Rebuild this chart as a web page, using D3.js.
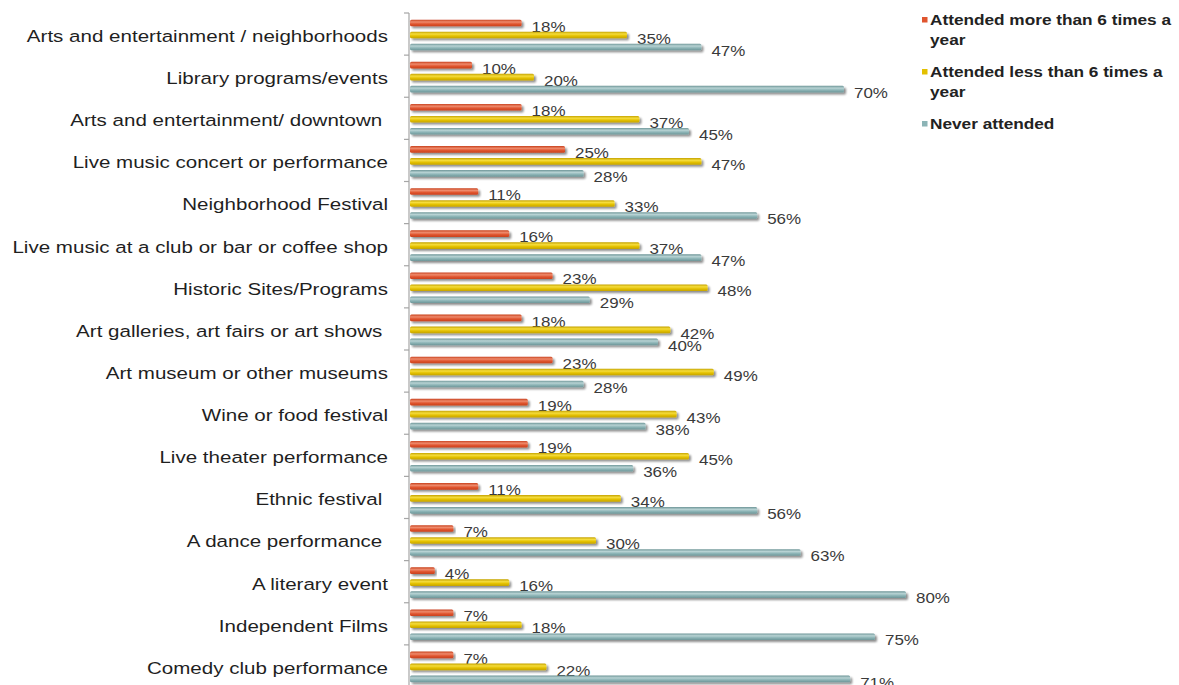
<!DOCTYPE html>
<html>
<head>
<meta charset="utf-8">
<script src="https://cdn.jsdelivr.net/npm/d3@7"></script>
<style>
  html, body { margin: 0; padding: 0; background: #fff; }
  svg { display: block; font-family: "Liberation Sans", Arial, sans-serif; }
</style>
</head>
<body>
<svg id="chart" width="1179" height="685"></svg>
<script>
// Attendance by activity type (percent of respondents)
const categories = [
  "Arts and entertainment / neighborhoods",
  "Library programs/events",
  "Arts and entertainment/ downtown ",
  "Live music concert or performance",
  "Neighborhood Festival",
  "Live music at a club or bar or coffee shop",
  "Historic Sites/Programs",
  "Art galleries, art fairs or art shows ",
  "Art museum or other museums",
  "Wine or food festival",
  "Live theater performance",
  "Ethnic festival ",
  "A dance performance ",
  "A literary event",
  "Independent Films",
  "Comedy club performance"
];
const seriesNames = [
  "Attended more than 6 times a year",
  "Attended less than 6 times a year",
  "Never attended"
];
const moreThan6 = [18, 10, 18, 25, 11, 16, 23, 18, 23, 19, 19, 11, 7, 4, 7, 7];
const lessThan6 = [35, 20, 37, 47, 33, 37, 48, 42, 49, 43, 45, 34, 30, 16, 18, 22];
const never     = [47, 70, 45, 28, 56, 47, 29, 40, 28, 38, 36, 56, 63, 80, 75, 71];
const seriesValues = [moreThan6, lessThan6, never];
const legendLines = [
  ["Attended more than 6 times a", "year"],
  ["Attended less than 6 times a", "year"],
  ["Never attended"]
];

const colors = ["#e0552f", "#e3c000", "#8cb4b6"];
const light  = ["#ee8a6c", "#f5dc3c", "#b7d2d3"];
const dark   = ["#c8401c", "#c4a200", "#6d9597"];

const svg = d3.select("#chart");
const defs = svg.append("defs");

colors.forEach((c, i) => {
  const g = defs.append("linearGradient")
    .attr("id", "grad" + i).attr("x1", 0).attr("y1", 0).attr("x2", 0).attr("y2", 1);
  g.append("stop").attr("offset", "0%").attr("stop-color", dark[i]);
  g.append("stop").attr("offset", "35%").attr("stop-color", light[i]);
  g.append("stop").attr("offset", "65%").attr("stop-color", c);
  g.append("stop").attr("offset", "100%").attr("stop-color", dark[i]);
});
const shadow = defs.append("filter").attr("id", "shadow")
  .attr("x", "-5%").attr("y", "-60%").attr("width", "110%").attr("height", "260%");
shadow.append("feGaussianBlur").attr("in", "SourceAlpha").attr("stdDeviation", 1.2).attr("result", "b");
shadow.append("feOffset").attr("in", "b").attr("dx", 1.5).attr("dy", 1.5).attr("result", "o");
shadow.append("feComponentTransfer").attr("in", "o").attr("result", "s")
  .append("feFuncA").attr("type", "linear").attr("slope", 0.45);
const merge = shadow.append("feMerge");
merge.append("feMergeNode").attr("in", "s");
merge.append("feMergeNode").attr("in", "SourceGraphic");

const axisX = 409;
const x = d3.scaleLinear().domain([0, 100]).range([axisX + 1, axisX + 621]);
const y = d3.scaleBand().domain(categories).range([13, 687]);
const inner = d3.scaleBand().domain(d3.range(3)).range([4, 40]).paddingInner(0.44).paddingOuter(0.22);

// category axis: line plus boundary ticks
svg.append("line")
  .attr("x1", axisX).attr("x2", axisX)
  .attr("y1", y.range()[0]).attr("y2", y.range()[1])
  .attr("stroke", "#a6a6a6").attr("stroke-width", 1.2);
const bounds = categories.map(c => y(c)).concat([y.range()[1]]);
svg.append("g").selectAll("line").data(bounds).join("line")
  .attr("x1", axisX - 5).attr("x2", axisX)
  .attr("y1", d => d).attr("y2", d => d)
  .attr("stroke", "#a6a6a6").attr("stroke-width", 1.2);

// category labels (wide setting)
svg.append("g").selectAll("text").data(categories).join("text")
  .attr("transform", d => `translate(388,${y(d) + y.bandwidth() / 2 + 2}) scale(1.21,1)`)
  .attr("text-anchor", "end")
  .attr("dominant-baseline", "central")
  .attr("font-size", 17)
  .attr("fill", "#1f1f1f")
  .style("white-space", "pre")
  .text(d => d);

const groups = svg.append("g").selectAll("g").data(categories).join("g")
  .attr("transform", d => `translate(0,${y(d)})`);

groups.each(function(cat, ci) {
  const g = d3.select(this);
  seriesValues.forEach((vals, si) => {
    const v = vals[ci];
    const by = inner(si);
    g.append("rect")
      .attr("x", x(0)).attr("y", by)
      .attr("width", x(v) - x(0)).attr("height", inner.bandwidth())
      .attr("rx", 1.5)
      .attr("fill", `url(#grad${si})`)
      .attr("filter", "url(#shadow)");
    g.append("text")
      .attr("transform", `translate(${x(v) + 10},${by + inner.bandwidth() / 2 + 3.5}) scale(1.13,1)`)
      .attr("dominant-baseline", "central")
      .attr("font-size", 15)
      .attr("fill", "#3a3a3a")
      .text(v + "%");
  });
});

// legend
const legendTop = [20, 72, 124];
const legend = svg.append("g");
legendLines.forEach((lines, i) => {
  legend.append("rect")
    .attr("x", 922).attr("y", legendTop[i] - 3)
    .attr("width", 5.5).attr("height", 5.5)
    .attr("fill", colors[i]);
  lines.forEach((t, j) => {
    legend.append("text")
      .attr("transform", `translate(930,${legendTop[i] + j * 20.5}) scale(1.23,1)`)
      .attr("dominant-baseline", "central")
      .attr("font-size", 14).attr("font-weight", "bold")
      .attr("fill", "#222")
      .text(t);
  });
});
</script>
</body>
</html>
